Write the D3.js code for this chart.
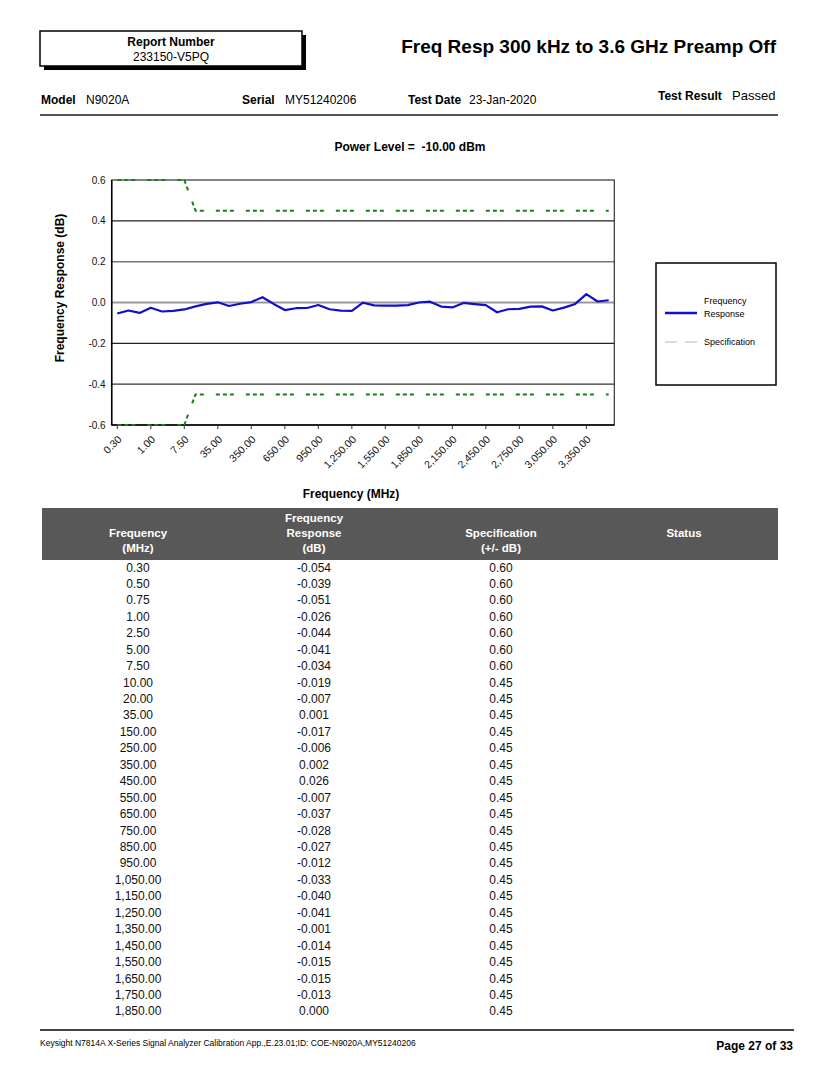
<!DOCTYPE html>
<html><head><meta charset="utf-8">
<script src="https://cdn.jsdelivr.net/npm/d3@7"></script>
<style>
html,body{margin:0;padding:0;background:#fff;}
svg{display:block;font-family:"Liberation Sans",Arial,sans-serif;}
</style></head>
<body><svg id="c" width="835" height="1080"></svg>
<script>
// ---- data ----
const freqs = [0.30,0.50,0.75,1.00,2.50,5.00,7.50,10.00,20.00,35.00,
  150,250,350,450,550,650,750,850,950,1050,1150,1250,1350,1450,1550,1650,1750,1850,
  1950,2050,2150,2250,2350,2450,2550,2650,2750,2850,2950,3050,3150,3250,3350,3450,3550];
const response = [-0.054,-0.039,-0.051,-0.026,-0.044,-0.041,-0.034,-0.019,-0.007,0.001,
  -0.017,-0.006,0.002,0.026,-0.007,-0.037,-0.028,-0.027,-0.012,-0.033,-0.040,-0.041,
  -0.001,-0.014,-0.015,-0.015,-0.013,0.000,
  0.004,-0.020,-0.024,-0.002,-0.008,-0.013,-0.048,-0.033,-0.031,-0.020,
  -0.019,-0.039,-0.025,-0.007,0.041,0.005,0.011];
const spec = [0.60,0.60,0.60,0.60,0.60,0.60,0.60,
  0.45,0.45,0.45,0.45,0.45,0.45,0.45,0.45,0.45,0.45,0.45,0.45,0.45,0.45,0.45,0.45,0.45,0.45,
  0.45,0.45,0.45,0.45,0.45,0.45,0.45,0.45,0.45,0.45,0.45,0.45,0.45,0.45,0.45,0.45,0.45,0.45,0.45,0.45];
const xTickLabels = ["0.30","1.00","7.50","35.00","350.00","650.00","950.00","1,250.00","1,550.00",
  "1,850.00","2,150.00","2,450.00","2,750.00","3,050.00","3,350.00"];
const yTicks = [-0.6,-0.4,-0.2,0.0,0.2,0.4,0.6];
const tableRows = 28;
const headerCols = [
  {lines:["Frequency","(MHz)"]},
  {lines:["Frequency","Response","(dB)"]},
  {lines:["Specification","(+/- dB)"]},
  {lines:["Status"]}
];
</script>
<script>
const svg = d3.select("#c");
const loc = d3.formatLocale({decimal:".",thousands:",",grouping:[3],currency:["",""],minus:"-"});
const fmt2 = loc.format(",.2f");
const fmt3 = loc.format(".3f");
const fmt1 = loc.format(".1f");

// --- header ---
svg.append("rect").attr("x",44).attr("y",35).attr("width",262).attr("height",35).attr("fill","#000");
svg.append("rect").attr("x",40).attr("y",31).attr("width",262).attr("height",35).attr("fill","#fff").attr("stroke","#000").attr("stroke-width",1.5);
svg.append("text").attr("x",171).attr("y",46).attr("text-anchor","middle").attr("font-size",12).attr("font-weight","bold").text("Report Number");
svg.append("text").attr("x",171).attr("y",61).attr("text-anchor","middle").attr("font-size",12).text("233150-V5PQ");
svg.append("text").attr("x",776).attr("y",53).attr("text-anchor","end").attr("font-size",19).attr("font-weight","bold").text("Freq Resp 300 kHz to 3.6 GHz Preamp Off");

const info = [
  {x:41,label:"Model",val:"N9020A",y:104,vx:86},
  {x:242,label:"Serial",val:"MY51240206",y:104,vx:285},
  {x:408,label:"Test Date",val:"23-Jan-2020",y:104,vx:469}
];
info.forEach(d=>{
  svg.append("text").attr("x",d.x).attr("y",d.y).attr("font-size",12).attr("font-weight","bold").text(d.label);
  svg.append("text").attr("x",d.vx).attr("y",d.y).attr("font-size",12).text(d.val);
});
svg.append("text").attr("x",658).attr("y",100).attr("font-size",12).attr("font-weight","bold").text("Test Result");
svg.append("text").attr("x",732).attr("y",100).attr("font-size",13).text("Passed");
svg.append("line").attr("x1",40).attr("x2",778).attr("y1",115).attr("y2",115).attr("stroke","#555").attr("stroke-width",2);

// --- chart ---
svg.append("text").attr("x",410).attr("y",151).attr("text-anchor","middle").attr("font-size",12).attr("font-weight","bold")
  .attr("style","white-space:pre").text("Power Level =  -10.00 dBm");

const L=111.7, R=614.3, T=180, B=425;
const x = d3.scalePoint().domain(freqs.map((d,i)=>i)).range([L,R]).padding(0.5);
const y = d3.scaleLinear().domain([-0.6,0.6]).range([B,T]);

const gridStyle = {"0.4":["#222",1.2],"0.2":["#777",1.5],"0":["#999",2],"-0.2":["#222",1.2],"-0.4":["#333",1.2]};
yTicks.filter(v=>Math.abs(v)<0.59).forEach(v=>{
  const s = gridStyle[String(+v.toFixed(1))] || ["#444",1];
  svg.append("line").attr("x1",L).attr("x2",R).attr("y1",y(v)).attr("y2",y(v)).attr("stroke",s[0]).attr("stroke-width",s[1]);
});
svg.append("rect").attr("x",L).attr("y",T).attr("width",R-L).attr("height",B-T).attr("fill","none").attr("stroke","#333").attr("stroke-width",1.2);
svg.append("line").attr("x1",L).attr("x2",L).attr("y1",T).attr("y2",B).attr("stroke","#000").attr("stroke-width",1.5);
svg.append("line").attr("x1",L).attr("x2",R).attr("y1",B).attr("y2",B).attr("stroke","#000").attr("stroke-width",1.5);

// y axis labels
svg.append("g").selectAll("text").data(yTicks).join("text")
  .attr("x",L-6).attr("y",d=>y(d)+3.5).attr("text-anchor","end").attr("font-size",10).attr("fill","#111")
  .text(d=>fmt1(d));

// x ticks & labels
const tickIdx = freqs.map((f,i)=>i).filter(i=>xTickLabels.includes(fmt2(freqs[i])));
svg.append("g").selectAll("line").data(tickIdx).join("line")
  .attr("x1",d=>x(d)).attr("x2",d=>x(d)).attr("y1",B).attr("y2",B+4).attr("stroke","#333");
svg.append("g").selectAll("text").data(tickIdx).join("text")
  .attr("transform",d=>`translate(${x(d)+5},${B+15}) rotate(-45)`)
  .attr("text-anchor","end").attr("font-size",10.5).attr("fill","#111")
  .text(d=>fmt2(freqs[d]));

svg.append("text").attr("transform",`translate(64,288) rotate(-90)`).attr("text-anchor","middle")
  .attr("font-size",12).attr("font-weight","bold").text("Frequency Response (dB)");
svg.append("text").attr("x",351).attr("y",498).attr("text-anchor","middle").attr("font-size",12).attr("font-weight","bold").text("Frequency (MHz)");

// spec lines
const specLine = d3.line().x((d,i)=>x(i)).y(d=>y(d));
svg.append("path").datum(spec).attr("d",specLine).attr("fill","none").attr("stroke","#1c7d1c")
  .attr("stroke-width",2).attr("stroke-dasharray","4,3,4,3,4,12");
svg.append("path").datum(spec.map(v=>-v)).attr("d",specLine).attr("fill","none").attr("stroke","#1c7d1c")
  .attr("stroke-width",2).attr("stroke-dasharray","4,3,4,3,4,12");

// response line
svg.append("path").datum(response).attr("d",d3.line().x((d,i)=>x(i)).y(d=>y(d)))
  .attr("fill","none").attr("stroke","#1010cc").attr("stroke-width",2.2).attr("stroke-linejoin","round");

// legend
svg.append("rect").attr("x",656).attr("y",263).attr("width",120).attr("height",122).attr("fill","#fff").attr("stroke","#000").attr("stroke-width",1.5);
svg.append("line").attr("x1",665).attr("x2",697).attr("y1",313).attr("y2",313).attr("stroke","#1010cc").attr("stroke-width",2.5);
svg.append("text").attr("x",704).attr("y",304).attr("font-size",9).text("Frequency");
svg.append("text").attr("x",704).attr("y",317).attr("font-size",9).text("Response");
svg.append("line").attr("x1",665).attr("x2",697).attr("y1",342).attr("y2",342).attr("stroke","#a8c4a8").attr("stroke-width",1.2).attr("stroke-dasharray","12,8");
svg.append("text").attr("x",704).attr("y",345).attr("font-size",9).text("Specification");

// --- table ---
svg.append("rect").attr("x",42).attr("y",508).attr("width",736).attr("height",52).attr("fill","#585858");
const colX = [138,314,501,684];
headerCols.forEach((c,ci)=>{
  const n = c.lines.length;
  const startY = n===3 ? 522 : 537;
  c.lines.forEach((t,li)=>{
    svg.append("text").attr("x",colX[ci]).attr("y",startY+li*15).attr("text-anchor","middle")
      .attr("font-family","'Liberation Sans Narrow','Liberation Sans',Arial,sans-serif")
      .attr("font-size",11.5).attr("font-weight","bold").attr("fill","#fff").text(t);
  });
});
const rows = freqs.slice(0,tableRows).map((f,i)=>({f, r:response[i], s:spec[i]}));
const rowY = i => 571.5 + i*16.44;
const tb = svg.append("g").attr("font-size",12).attr("fill","#111");
tb.selectAll(".c0").data(rows).join("text").attr("x",colX[0]).attr("y",(d,i)=>rowY(i)).attr("text-anchor","middle").text(d=>fmt2(d.f));
tb.selectAll(".c1").data(rows).join("text").attr("x",colX[1]).attr("y",(d,i)=>rowY(i)).attr("text-anchor","middle").text(d=>fmt3(d.r).replace("-0.000","0.000"));
tb.selectAll(".c2").data(rows).join("text").attr("x",colX[2]).attr("y",(d,i)=>rowY(i)).attr("text-anchor","middle").text(d=>fmt2(d.s));

// footer
svg.append("line").attr("x1",40).attr("x2",794).attr("y1",1030).attr("y2",1030).attr("stroke","#444").attr("stroke-width",2);
svg.append("text").attr("x",40).attr("y",1046).attr("font-size",8.5).attr("font-family","'Liberation Sans Narrow','Liberation Sans',Arial,sans-serif").text("Keysight N7814A X-Series Signal Analyzer Calibration App.,E.23.01;ID: COE-N9020A,MY51240206");
svg.append("text").attr("x",793).attr("y",1050).attr("text-anchor","end").attr("font-size",12).attr("font-weight","bold").text("Page 27 of 33");
</script>
</body></html>
